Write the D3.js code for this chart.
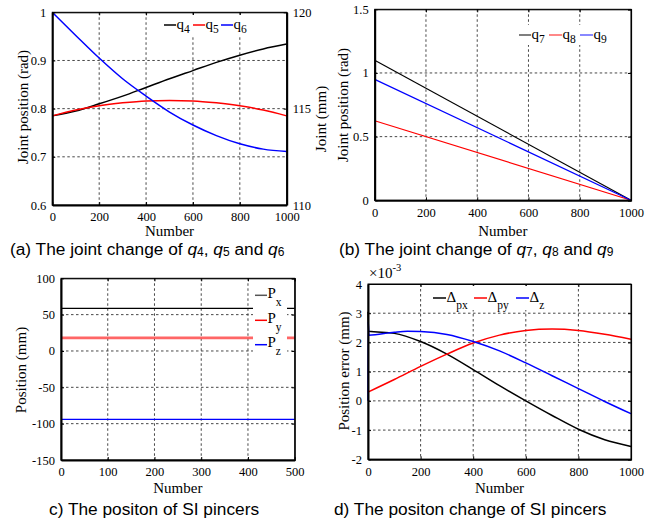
<!DOCTYPE html>
<html>
<head>
<meta charset="utf-8">
<script src="https://cdn.jsdelivr.net/npm/d3@7"></script>
<style>
  html, body { margin: 0; padding: 0; background: #fff; }
  svg { display: block; }
  .tick text { font-family: "Liberation Serif", "Times New Roman", serif; font-size: 12.5px; fill: #000; }
  .title { font-family: "Liberation Serif", "Times New Roman", serif; font-size: 15px; fill: #000; }
  .caption { font-family: "Liberation Sans", Arial, sans-serif; font-size: 17.3px; fill: #000; }
  .leg { font-family: "Liberation Serif", "Times New Roman", serif; font-size: 15px; fill: #000; }
</style>
</head>
<body>
<svg id="fig" width="664" height="523"></svg>
<script>
// ---- (a) joints q4, q5, q6 over the trajectory ----
const stepsA = [0, 100, 200, 300, 400, 500, 600, 700, 800, 900, 1000];
const q4 = [0.785, 0.795, 0.810, 0.826, 0.844, 0.862, 0.879, 0.896, 0.911, 0.924, 0.934];
const q5 = [0.785, 0.797, 0.806, 0.812, 0.816, 0.817, 0.816, 0.812, 0.806, 0.797, 0.785];
const q6 = [1.000, 0.952, 0.905, 0.862, 0.826, 0.793, 0.766, 0.744, 0.727, 0.716, 0.711];
const ticksA = [0, 200, 400, 600, 800, 1000];
const ticksAy = [0.6, 0.7, 0.8, 0.9, 1];
const ticksAyRight = [110, 115, 120];

// ---- (b) joints q7, q8, q9 (linear to zero) ----
const stepsB = [0, 1000];
const q7 = [1.10, 0];
const q8 = [0.625, 0];
const q9 = [0.95, 0];
const ticksBy = [0, 0.5, 1, 1.5];

// ---- (c) pincer position ----
const stepsC = [0, 500];
const px = [58.7, 58.7];
const py = [18, 18];
const pz = [-94, -94];
const ticksC = [0, 100, 200, 300, 400, 500];
const ticksCy = [-150, -100, -50, 0, 50, 100];

// ---- (d) pincer position error (x 1e-3 mm) ----
const stepsDpx = [0, 2, 100, 200, 300, 400, 500, 600, 700, 800, 900, 1000];
const dpx = [3.05, 2.38, 2.31, 2.03, 1.60, 1.07, 0.52, 0.00, -0.50, -0.97, -1.33, -1.56];
const stepsDpy = [0, 100, 200, 300, 400, 500, 600, 700, 800, 900, 1000];
const dpy = [0.30, 0.73, 1.18, 1.60, 1.98, 2.25, 2.41, 2.46, 2.41, 2.28, 2.11];
const stepsDz = [0, 1, 3, 100, 150, 200, 300, 400, 500, 600, 700, 800, 900, 1000];
const dz = [0.00, 2.72, 2.25, 2.35, 2.38, 2.37, 2.27, 2.03, 1.71, 1.30, 0.86, 0.42, -0.02, -0.44];
const ticksDy = [-2, -1, 0, 1, 2, 3, 4];

const svg = d3.select("#fig");
// plain hyphen for negative tick labels
const hy = f => v => f(v).replace("\u2212", "-");

function panel(o) {
  const g = svg.append("g");
  const x = d3.scaleLinear().domain(o.xDomain).range([o.left, o.right]);
  const y = d3.scaleLinear().domain(o.yDomain).range([o.bottom, o.top]);

  // dashed grid
  const grid = g.append("g").attr("stroke", "#333").attr("stroke-width", 0.9)
    .attr("stroke-dasharray", "2.5,2.5");
  o.xTicks.slice(1, -1).forEach(v => grid.append("line")
    .attr("x1", x(v)).attr("x2", x(v)).attr("y1", o.top).attr("y2", o.bottom));
  o.yTicks.slice(1, -1).forEach(v => grid.append("line")
    .attr("x1", o.left).attr("x2", o.right).attr("y1", y(v)).attr("y2", y(v)));

  // data lines
  const line = d3.line().x(d => x(d[0])).y(d => y(d[1])).curve(d3.curveMonotoneX);
  o.series.forEach(s => {
    g.append("path").datum(d3.zip(s.x, s.y)).attr("d", line)
      .attr("fill", "none").attr("stroke", s.color)
      .attr("stroke-width", s.width || 1.5).attr("stroke-opacity", s.opacity || 1);
  });

  // box and mirrored inward ticks
  g.append("rect").attr("x", o.left).attr("y", o.top)
    .attr("width", o.right - o.left).attr("height", o.bottom - o.top)
    .attr("fill", "none").attr("stroke", "#000").attr("stroke-width", 1);
  g.append("g").attr("transform", `translate(0,${o.top})`)
    .call(d3.axisTop(x).tickValues(o.xTicks).tickSize(-3).tickFormat(""))
    .call(a => a.select(".domain").attr("stroke-width", 1));
  if (!o.yRight) {
    g.append("g").attr("transform", `translate(${o.right},0)`)
      .call(d3.axisRight(y).tickValues(o.yTicks).tickSize(-3).tickFormat(""))
      .call(a => a.select(".domain").attr("stroke-width", 1.2));
  }

  const xa = g.append("g").attr("transform", `translate(0,${o.bottom})`)
    .call(d3.axisBottom(x).tickValues(o.xTicks).tickSizeInner(-3).tickSizeOuter(0)
      .tickPadding(7.5).tickFormat(d3.format("d")));
  xa.select(".domain").attr("stroke-width", 2);
  const ya = g.append("g").attr("transform", `translate(${o.left},0)`)
    .call(d3.axisLeft(y).tickValues(o.yTicks).tickSizeInner(-3).tickSizeOuter(0)
      .tickPadding(6).tickFormat(hy(o.yFormat)));
  ya.select(".domain").attr("stroke-width", 2);

  if (o.yRight) {
    const yr = d3.scaleLinear().domain(o.yRight.domain).range([o.bottom, o.top]);
    const ra = g.append("g").attr("transform", `translate(${o.right},0)`)
      .call(d3.axisRight(yr).tickValues(o.yRight.ticks).tickSizeInner(-3).tickSizeOuter(0)
        .tickPadding(6).tickFormat(d3.format("d")));
    ra.select(".domain").attr("stroke-width", 2);
    g.append("text").attr("class", "title")
      .attr("transform", `translate(${o.yRight.labelX},${o.yRight.labelY}) rotate(-90)`)
      .attr("text-anchor", "middle").text(o.yRight.label);
  }

  // axis titles
  g.append("text").attr("class", "title").attr("x", (o.left + o.right) / 2)
    .attr("y", o.xTitleY).attr("text-anchor", "middle").attr("font-size", "13.8px").text("Number");
  g.append("text").attr("class", "title")
    .attr("transform", `translate(${o.yTitleX},${o.yTitleY}) rotate(-90)`)
    .attr("text-anchor", "middle").text(o.yTitle);
  return { g, x, y };
}

// caption with italic symbols and small digits
function caption(xp, yp, parts) {
  const t = svg.append("text").attr("class", "caption").attr("x", xp).attr("y", yp);
  parts.forEach(p => {
    const s = t.append("tspan").text(p.t);
    if (p.i) s.attr("font-style", "italic");
    if (p.sub) s.attr("font-size", "12px").attr("dy", 1);
    if (p.up) s.attr("dy", -1);
  });
}

// legend entries laid out in a row: short line + symbol + subscript
function legendRow(g, box, items) {
  g.append("rect").attr("x", box[0]).attr("y", box[1]).attr("width", box[2])
    .attr("height", box[3]).attr("fill", "#fff");
  items.forEach(it => {
    g.append("line").attr("x1", it.x).attr("x2", it.x + it.len).attr("y1", it.y).attr("y2", it.y)
      .attr("stroke", it.color).attr("stroke-width", 1.5);
    const t = g.append("text").attr("class", "leg").attr("x", it.x + it.len + 0.5).attr("y", it.y + 4);
    t.append("tspan").text(it.sym);
    t.append("tspan").attr("font-size", "11.5px").attr("dy", it.subDy).text(it.sub);
  });
}

// (a)
const pa = panel({
  left: 52.3, right: 286.7, top: 12.3, bottom: 205,
  xDomain: [0, 1000], yDomain: [0.6, 1],
  xTicks: ticksA, yTicks: ticksAy, yFormat: d3.format("~g"),
  series: [
    { x: stepsA, y: q4, color: "#000" },
    { x: stepsA, y: q5, color: "#ff0000" },
    { x: stepsA, y: q6, color: "#0000ff" }
  ],
  yRight: { domain: [110, 120], ticks: ticksAyRight, label: "Joint (mm)", labelX: 326, labelY: 119 },
  xTitleY: 236.4, yTitleX: 28, yTitleY: 107, yTitle: "Joint position (rad)"
});
legendRow(pa.g, [160, 15, 92, 20], [
  { x: 164, len: 12, y: 25, color: "#000", sym: "q", sub: "4", subDy: 4 },
  { x: 193, len: 12, y: 25, color: "#ff0000", sym: "q", sub: "5", subDy: 4 },
  { x: 221, len: 12, y: 25, color: "#0000ff", sym: "q", sub: "6", subDy: 4 }
]);
caption(10, 255, [
  { t: "(a) The joint change of " }, { t: "q", i: true }, { t: "4", sub: true },
  { t: ", ", up: true }, { t: "q", i: true }, { t: "5", sub: true },
  { t: " and ", up: true }, { t: "q", i: true }, { t: "6", sub: true }
]);

// (b)
const pb = panel({
  left: 374.7, right: 631, top: 9.3, bottom: 200.3,
  xDomain: [0, 1000], yDomain: [0, 1.5],
  xTicks: ticksA, yTicks: ticksBy, yFormat: d3.format("~g"),
  series: [
    { x: stepsB, y: q7, color: "#000", width: 1.2 },
    { x: stepsB, y: q8, color: "#ff0000", width: 1.2 },
    { x: stepsB, y: q9, color: "#0000ff", width: 1.2 }
  ],
  xTitleY: 236.4, yTitleX: 348, yTitleY: 105, yTitle: "Joint position (rad)"
});
legendRow(pb.g, [515, 25, 98, 20], [
  { x: 519, len: 12, y: 35, color: "#555", sym: "q", sub: "7", subDy: 4 },
  { x: 549, len: 13, y: 35, color: "#ff6060", sym: "q", sub: "8", subDy: 4 },
  { x: 580, len: 13, y: 35, color: "#6060ff", sym: "q", sub: "9", subDy: 4 }
]);
caption(339, 255, [
  { t: "(b) The joint change of " }, { t: "q", i: true }, { t: "7", sub: true },
  { t: ", ", up: true }, { t: "q", i: true }, { t: "8", sub: true },
  { t: " and ", up: true }, { t: "q", i: true }, { t: "9", sub: true }
]);

// (c)
const pc = panel({
  left: 61, right: 294.7, top: 278.3, bottom: 460,
  xDomain: [0, 500], yDomain: [-150, 100],
  xTicks: ticksC, yTicks: ticksCy, yFormat: d3.format("d"),
  series: [
    { x: stepsC, y: px, color: "#000", width: 1.3 },
    { x: stepsC, y: py, color: "#ff5555", width: 2.6, opacity: 0.9 },
    { x: stepsC, y: pz, color: "#0000ff", width: 1.3 }
  ],
  xTitleY: 493, yTitleX: 26, yTitleY: 370, yTitle: "Position (mm)"
});
// vertical legend, stacked entries
(function () {
  const g = pc.g;
  g.append("rect").attr("x", 253).attr("y", 283).attr("width", 34).attr("height", 74).attr("fill", "#fff");
  const rows = [
    { y: 295.3, color: "#555", sub: "x" },
    { y: 320.3, color: "#ff0000", sub: "y" },
    { y: 344.7, color: "#0000ff", sub: "z" }
  ];
  rows.forEach(r => {
    g.append("line").attr("x1", 255).attr("x2", 267).attr("y1", r.y).attr("y2", r.y)
      .attr("stroke", r.color).attr("stroke-width", 1.5);
    const t = g.append("text").attr("class", "leg").attr("x", 267.5).attr("y", r.y + 2.5);
    t.append("tspan").text("P");
    t.append("tspan").attr("font-size", "11.5px").attr("dy", 8).text(r.sub);
  });
})();
caption(49, 515, [{ t: "c) The positon of SI pincers" }]);

// (d)
const pd = panel({
  left: 368, right: 631, top: 284, bottom: 459.3,
  xDomain: [0, 1000], yDomain: [-2, 4],
  xTicks: ticksA, yTicks: ticksDy, yFormat: d3.format("d"),
  series: [
    { x: stepsDpx, y: dpx, color: "#000" },
    { x: stepsDpy, y: dpy, color: "#ff0000" },
    { x: stepsDz, y: dz, color: "#0000ff" }
  ],
  xTitleY: 493, yTitleX: 349, yTitleY: 371, yTitle: "Position error (mm)"
});
legendRow(pd.g, [423, 286, 153, 24], [
  { x: 433, len: 13, y: 298, color: "#000", sym: "\u0394", sub: "px", subDy: 7 },
  { x: 474, len: 13, y: 298, color: "#ff0000", sym: "\u0394", sub: "py", subDy: 7 },
  { x: 516, len: 13, y: 298, color: "#0000ff", sym: "\u0394", sub: "z", subDy: 7 }
]);
// exponent label above the y axis
(function () {
  const t = pd.g.append("text").attr("class", "title").attr("x", 369).attr("y", 278)
    .attr("font-size", "14px");
  t.append("tspan").text("\u00d710");
  t.append("tspan").attr("font-size", "10.5px").attr("dy", -7).text("-3");
})();
caption(334, 515, [{ t: "d) The positon change of SI pincers" }]);
</script>
</body>
</html>
